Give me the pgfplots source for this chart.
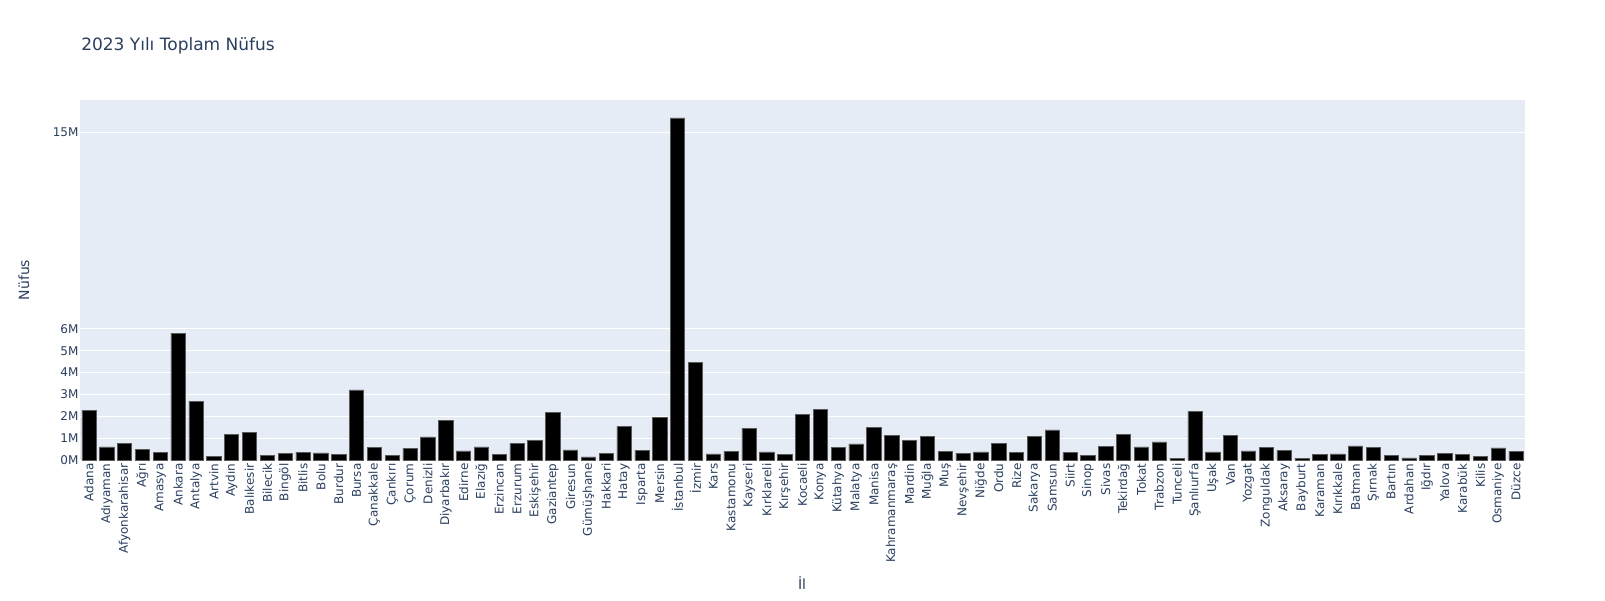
\documentclass[border=0pt]{standalone}
\usepackage{fontspec}
\setmainfont{DejaVu Sans}
\usepackage{pgfplots}
\usepackage{pgfplotstable}
\pgfplotsset{compat=1.18}

\definecolor{plotbg}{HTML}{E5ECF6}
\definecolor{txt}{HTML}{2A3F5F}

% 2023 il nufuslari
\pgfplotstableread{
il nufus
Adana 2270298
Adıyaman 604978
Afyonkarahisar 747555
Ağrı 501825
Amasya 338267
Ankara 5803482
Antalya 2696249
Artvin 169403
Aydın 1161702
Balıkesir 1276096
Bilecik 227429
Bingöl 285655
Bitlis 359747
Bolu 320824
Burdur 273799
Bursa 3214571
Çanakkale 568966
Çankırı 198186
Çorum 527220
Denizli 1059082
Diyarbakır 1818133
Edirne 418230
Elazığ 604411
Erzincan 243399
Erzurum 749993
Eskişehir 906617
Gaziantep 2164134
Giresun 461712
Gümüşhane 147207
Hakkari 287625
Hatay 1544640
Isparta 449777
Mersin 1938389
İstanbul 15655924
İzmir 4479525
Kars 274829
Kastamonu 388990
Kayseri 1445683
Kırklareli 369347
Kırşehir 244519
Kocaeli 2102907
Konya 2320241
Kütahya 580701
Malatya 742725
Manisa 1475716
Kahramanmaraş 1116618
Mardin 888874
Muğla 1066736
Muş 399202
Nevşehir 310011
Niğde 370087
Ordu 763190
Rize 345662
Sakarya 1098115
Samsun 1377546
Siirt 331980
Sinop 225574
Sivas 634224
Tekirdağ 1167059
Tokat 596454
Trabzon 824352
Tunceli 89317
Şanlıurfa 2213964
Uşak 375454
Van 1127612
Yozgat 418442
Zonguldak 588510
Aksaray 433055
Bayburt 86047
Karaman 260838
Kırıkkale 278749
Batman 647205
Şırnak 570826
Bartın 203351
Ardahan 92819
Iğdır 203594
Yalova 296333
Karabük 242347
Kilis 155917
Osmaniye 557666
Düzce 409865
}\data

\begin{document}
\begin{tikzpicture}
\useasboundingbox (0,0) rectangle (1203.75pt,450pt);
\begin{axis}[
  at={(60pt,105pt)}, anchor=south west,
  width=1083.75pt, height=270pt, scale only axis,
  axis background/.style={fill=plotbg},
  axis line style={draw=none},
  major tick length=0pt,
  xmin=-0.5, xmax=80.5,
  ymin=0, ymax=16480000,
  xtick=data,
  xticklabels from table={\data}{il},
  xticklabel style={rotate=90, anchor=east, font=\fontsize{9}{10}\selectfont, text=txt, inner sep=2.5pt},
  ytick={0,1000000,2000000,3000000,4000000,5000000,6000000,15000000},
  yticklabels={0M,1M,2M,3M,4M,5M,6M,15M},
  yticklabel style={font=\fontsize{9}{10}\selectfont, text=txt, inner sep=1pt},
  ymajorgrids, grid style={white, line width=0.75pt},
  scaled y ticks=false,
  clip=false,
]
\addplot[ybar, bar width=0.8, fill=black, draw=gray!70!black, line width=0.4pt]
  table[x expr=\coordindex, y=nufus] {\data};
\end{axis}
\node[anchor=base west, inner sep=0pt, text=txt, font=\fontsize{12.75}{15}\selectfont] at (60.75pt,412pt) {2023 Yılı Toplam Nüfus};
\node[rotate=90, text=txt, font=\fontsize{10.5}{12}\selectfont] at (18pt,240pt) {Nüfus};
\node[text=txt, font=\fontsize{10.5}{12}\selectfont] at (601.5pt,12.75pt) {İl};
\end{tikzpicture}
\end{document}
